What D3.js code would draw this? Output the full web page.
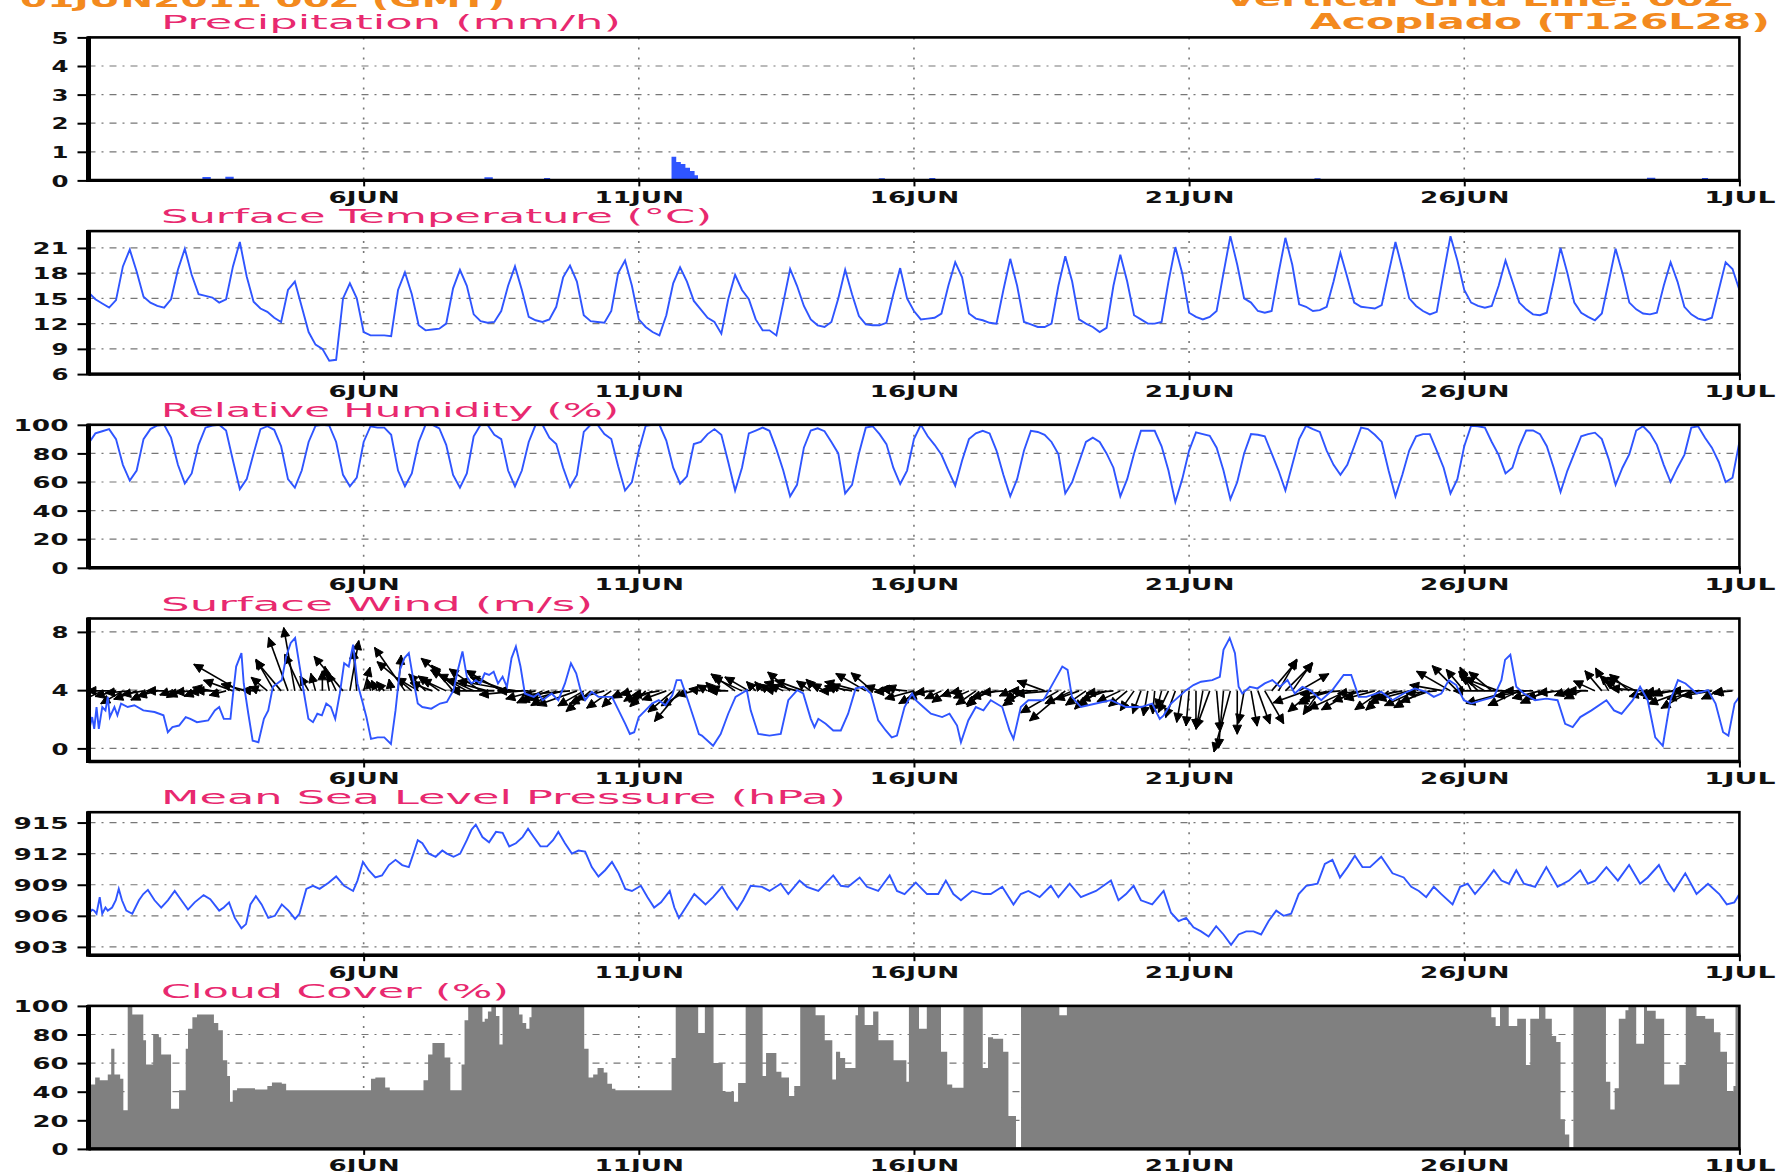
<!DOCTYPE html>
<html><head><meta charset="utf-8">
<script src="https://cdn.jsdelivr.net/npm/d3@7"></script>
<style>body{margin:0;background:#fff;overflow:hidden}svg{display:block}</style>
</head><body>
<svg id="c" width="1778" height="1172"></svg>
<script>
// ---------------- DATA ----------------
const headerLeft = "01JUN2011 00Z (GMT)";
const headerRight1 = "Vertical Grid Line: 00Z";
const headerRight2 = "Acoplado (T126L28)";

const dayTickHours = [120, 240, 360, 480, 600, 720];
const dayTickLabels = ["6JUN", "11JUN", "16JUN", "21JUN", "26JUN", "1JUL"];

const panelTitles = ["Precipitation  (mm/h)", "Surface  Temperature  (°C)", "Relative  Humidity  (%)",
  "Surface  Wind  (m/s)", "Mean  Sea  Level  Pressure  (hPa)", "Cloud  Cover  (%)"];

const precipTicks = [0, 1, 2, 3, 4, 5];
const tempTicks = [6, 9, 12, 15, 18, 21];
const humidityTicks = [0, 20, 40, 60, 80, 100];
const windTicks = [0, 4, 8];
const pressureTicks = [903, 906, 909, 912, 915];
const cloudTicks = [0, 20, 40, 60, 80, 100];

// precipitation, [hour, mm/h], stepped
const precipitation = [[0,0.02],[48,0.02],[50,0.09],[53,0.02],[59,0.02],[60,0.1],[63,0.02],[172,0.02],[173,0.08],[176,0.02],
  [198,0.02],[199,0.06],[201,0.02],[254.6,0.8],[256,0.62],[258,0.55],[260,0.42],[262,0.3],[264,0.15],[265.5,0.02],
  [344,0.02],[345,0.05],[347,0.02],[366,0.02],[367,0.06],[369,0.02],[534,0.02],[535,0.05],[537,0.02],
  [679,0.02],[680,0.07],[683,0.02],[703,0.02],[704,0.06],[706,0.02],[720,0.02]];

// surface temperature, 3-hourly from 01JUN 00Z
const temperature = [
  15.7,14.9,14.4,13.9,14.8,18.8,20.8,18.2,  15.2,14.5,14.1,13.9,14.9,18.4,20.9,17.8,
  15.5,15.3,15.1,14.5,14.9,18.8,21.7,17.6,  14.6,13.8,13.4,12.7,12.2,16.0,17.0,14.0,
  11.0,9.5,9.0,7.6,7.7,15.0,16.8,15.0,      11.0,10.6,10.6,10.6,10.5,16.0,18.1,15.5,
  11.8,11.2,11.3,11.4,12.0,16.2,18.4,16.5,  13.1,12.3,12.1,12.2,13.5,16.5,18.8,16.0,
  12.8,12.4,12.2,12.5,14.0,17.5,18.9,17.0,  13.0,12.3,12.2,12.1,13.5,18.0,19.5,16.5,
  12.5,11.6,11.0,10.6,13.0,16.8,18.7,17.0,  14.7,13.7,12.7,12.2,10.8,14.9,17.8,16.0,
  14.9,12.5,11.2,11.2,10.6,14.5,18.5,16.5,  14.1,12.5,11.8,11.6,12.2,15.0,18.4,15.5,
  12.9,11.9,11.8,11.8,12.1,15.5,18.6,15.0,  13.5,12.5,12.6,12.7,13.2,16.5,19.3,17.5,
  13.2,12.6,12.4,12.1,12.0,16.0,19.7,16.5,  12.2,11.9,11.6,11.6,12.0,16.5,20.0,17.0,
  12.5,12.0,11.6,11.0,11.5,16.5,20.2,17.0,  13.0,12.5,12.0,12.0,12.2,17.0,21.1,18.0,
  13.3,12.8,12.5,12.8,13.5,18.0,22.4,19.0,  15.0,14.5,13.5,13.3,13.5,18.0,22.2,19.0,
  14.3,14.0,13.5,13.6,14.0,17.0,20.4,17.5,  14.5,14.0,13.9,13.8,14.2,18.0,21.7,18.5,
  15.0,14.1,13.5,13.1,13.4,18.0,22.4,19.5,  16.0,14.5,14.1,13.9,14.1,16.5,19.5,17.0,
  14.5,13.7,13.1,13.0,13.3,17.0,21.0,18.0,  14.5,13.3,12.8,12.4,13.2,17.0,20.9,18.0,
  14.5,13.7,13.2,13.1,13.3,16.5,19.3,17.0,  14.0,13.1,12.6,12.4,12.7,16.0,19.3,18.5,
  16.0];

// relative humidity, 3-hourly from 01JUN 00Z
const humidity = [
  87,94,95.5,97,90,72,61,68,      90,97,99.5,100,91,72,59,66,
  86,98,99.5,100,96,75,55,62,     80,97,99,96.5,85,62,56,68,
  88,99.3,100,99.5,88,65,57,63,   88,99,98,98,93,68,57,66,
  88,100,100,97.5,86,65,56,66,    92,100,100,93,90,68,57,68,
  88,100,100,91,86.6,70,56.5,65,  95,100,100,93.5,90,71,54,60,
  82,99.3,100,100,89,70,58.8,64,  86.5,88,93.5,97,93,74,54,70,
  94,96,98,95.8,83,68,50,58,      84,96,97.5,95.5,88,80,52,58,
  80,98,99,93.5,86.5,70,58.6,68,  90,100,92,86,79,68,57.4,75,
  90,94,95.8,94,82,65,50,62,      82,95.8,95,93,88,79.5,52,60,
  74,88,91,88,80,70,50,62,        80,95.8,95.8,95.8,85,68,46,62,
  82,94.7,93.5,92.3,84,68,48,60,  80,93.5,93,92,80,68,54,72,
  90,99.3,97,95,82,72,65,72,      85,98,97,93,88,68,50,65,
  82,92,93.5,93.5,82,70,52,62,    85,99.3,99,98,88,79,66,70,
  85,96,96,93.5,85,70,53,68,      80,92,93.5,94.5,90,76,58,70,
  79.5,96,99,94,86,72,60,70,      79,98,99,91,84,74,60,63,
  88];

// wind speed, [hour, m/s]
const windSpeed = [[0,1.1],[1.6,2.15],[2.5,1.34],[3.5,2.84],[4.5,1.34],[6,2.84],[7.4,2.61],[8.4,3.54],[9.3,2.15],[11.3,2.84],
  [12.6,2.27],[14.2,3.08],[17.1,2.84],[20,2.96],[23.9,2.61],[28.8,2.5],[32.7,2.27],[34.6,1.11],[36.6,1.46],[39.5,1.57],
  [42.4,2.15],[44.4,2.03],[47.3,1.8],[52.2,1.92],[55.1,2.61],[57,2.84],[59,2.03],[61.9,2.03],[62.9,3.54],[64.4,5.62],
  [66.7,6.54],[67.7,4.46],[69.7,2.38],[71.6,0.53],[74.1,0.42],[76.5,2.03],[78.4,2.61],[80.4,4.23],[82.3,4.46],[84.3,4.69],
  [86.2,6.31],[88.2,7.24],[90.1,7.58],[92.1,5.62],[94,3.77],[95.9,2.03],[97.9,1.8],[99.8,2.38],[101.8,2.27],[103.7,3.08],
  [105.7,2.84],[107.6,2.03],[109.6,3.77],[111.5,5.85],[113.5,5.62],[115.4,7.12],[117.3,4.46],[119.3,3.31],[121.2,2.15],[123.2,0.65],
  [126.1,0.76],[129,0.76],[131.9,0.3],[133.9,2.61],[135.8,5.39],[137.8,6.2],[139.7,6.54],[141.7,4.69],[143.6,3.08],[145.6,2.84],
  [149.5,2.73],[153.3,3.08],[156.3,3.19],[159.2,4.0],[161.1,5.39],[163.1,6.66],[165,4.92],[167,4.46],[168.9,4.69],[170.9,4.46],
  [172.8,5.16],[174.7,5.04],[176.7,5.27],[178.6,4.46],[180.6,4.92],[182.5,4.23],[184.5,6.2],[186.4,7.0],[188.4,5.62],[190.3,3.77],
  [192.3,3.65],[194.2,3.54],[196.2,3.77],[198.1,3.31],[202,3.77],[204.9,3.31],[207.8,4.46],[210.4,5.85],[212.7,5.16],[214.6,4.0],
  [216.6,3.31],[219.5,3.88],[222.4,3.54],[228.3,3.54],[231.2,2.61],[234.1,1.69],[236.1,0.99],[238,1.11],[240,2.15],[242.9,2.61],
  [245.8,3.08],[248.7,3.31],[251.6,2.96],[254.6,3.65],[256.5,4.69],[258.4,4.69],[261.4,3.31],[264.3,1.92],[266.2,0.99],[267.5,0.88],
  [272.4,0.18],[275.7,0.99],[279,2.38],[282.2,3.54],[287.1,4.0],[288.8,2.61],[292.1,0.99],[297,0.88],[301.9,0.99],[305.2,3.31],
  [309.1,4.0],[311.7,3.77],[315,2.03],[316.6,1.46],[318.3,2.03],[321.5,1.69],[324.8,1.23],[328.1,1.23],[331.3,2.38],[334.6,4.12],
  [337.9,4.23],[341.2,3.77],[344.4,1.92],[347.7,1.23],[350.3,0.76],[352.6,0.88],[355.9,2.84],[359.2,3.77],[360.8,3.31],[364.1,2.84],
  [367.4,2.38],[372.3,2.15],[375.5,2.38],[378.8,1.57],[380.5,0.42],[383.7,1.92],[387,2.84],[390.3,2.61],[393.5,3.31],[398.5,2.84],
  [401.7,1.23],[403.4,0.65],[406.6,2.84],[409.9,3.31],[416.5,3.31],[421.4,4.69],[424.7,5.62],[427,5.39],[428.9,3.54],[432.8,2.84],
  [439.4,3.08],[445.9,3.31],[452.5,2.84],[459,2.84],[463.9,3.08],[467.2,2.03],[468.9,2.27],[472.1,3.08],[475.4,3.54],[478.7,4.0],
  [481.9,4.35],[485.2,4.58],[490.1,4.69],[493.4,4.92],[495,6.77],[497.7,7.58],[500,6.54],[501.6,4.23],[503.2,3.77],[506.5,4.23],
  [509.8,4.12],[513,4.46],[516.3,4.69],[519.6,4.23],[522.9,4.69],[526.1,3.77],[529.4,4.23],[532.7,4.0],[537.6,3.31],[542.5,4.0],
  [547.4,5.04],[550.7,5.04],[554,3.54],[557.3,3.54],[563.8,3.88],[568.7,3.31],[573.6,3.77],[578.5,4.12],[583.4,3.88],[586.7,3.54],
  [590,3.77],[593.3,4.69],[596.5,4.35],[599.8,3.31],[603.1,3.08],[608,3.31],[612.9,3.54],[616.2,4.69],[617.8,6.08],[620.1,6.43],
  [622.7,4.23],[626,3.77],[630.9,3.31],[635.8,3.42],[640.7,3.31],[644,1.69],[647.3,1.46],[650.6,2.15],[655.5,2.61],[662,3.31],
  [665.3,2.61],[668.6,2.38],[673.5,3.31],[676.7,4.23],[680,3.31],[683.3,0.76],[686.6,0.18],[689.9,3.31],[693.2,4.69],[696.5,4.46],
  [701.4,3.77],[706.3,4.0],[709.6,3.08],[712.9,1.11],[715.2,0.88],[717.9,3.08],[720,3.54]];

// wind vector direction (degrees the arrow points to, clockwise from up), 3-hourly
const windDirection = [
  250,260,245,270,255,240,265,250,  260,245,255,270,250,240,255,265,
  250,265,280,270,255,290,300,285,  275,290,310,330,320,340,350,335,
  330,345,0,350,335,320,10,355,     15,345,330,320,350,5,325,310,
  300,315,290,305,295,320,310,300,  295,305,285,270,300,290,280,265,
  270,255,245,250,240,255,265,250,  240,230,245,255,235,225,240,250,
  235,225,245,260,250,230,220,240,  255,280,300,315,290,270,305,295,
  300,315,320,305,280,295,310,285,  290,305,315,300,270,300,295,280,
  285,300,310,290,265,285,290,275,  255,240,250,265,245,235,250,260,
  245,235,225,240,255,265,245,230,  235,250,270,290,265,240,230,245,
  250,235,225,235,250,265,245,230,  215,200,190,185,195,205,200,190,
  185,180,190,200,175,185,195,180,  190,170,160,150,40,30,45,35,
  60,250,230,215,245,255,265,245,   240,250,265,255,235,230,245,260,
  255,245,240,250,265,280,300,315,  320,335,315,300,310,290,270,255,
  245,260,270,255,245,255,265,250,  255,245,270,295,320,330,315,300,
  310,295,275,255,260,245,255,265,  250,240,255,270,260,245,255,265];

// mean sea level pressure, [hour, hPa]
const pressure = [[0,906.2],[1.6,906.6],[2.5,906.5],[3.5,906.2],[4.9,907.8],[6,906.2],[7.4,906.8],[8.4,906.5],[10.3,906.8],[11.9,907.5],
  [13.2,908.6],[14.6,907.5],[16.5,906.5],[19.1,906.2],[22,907.5],[23.9,908.1],[25.9,908.5],[28.8,907.5],[31.7,906.8],[34.6,907.5],
  [37.6,908.4],[40.5,907.5],[43.4,906.6],[46.3,907.3],[50.2,908.0],[53.1,907.6],[57,906.5],[59,906.8],[61.3,907.3],[63.8,905.8],
  [66.7,904.8],[68.7,905.2],[70.6,907.1],[73,907.9],[75.5,907.1],[78.4,905.8],[81.3,906.0],[84.3,907.1],[87.2,906.5],[90.1,905.7],
  [92,906.2],[95,908.6],[97.9,908.9],[100.8,908.6],[104.7,909.2],[108,909.8],[111.5,908.9],[115.4,908.4],[117.3,909.4],[119.7,911.2],
  [122.2,910.4],[125.1,909.7],[128,909.9],[131,910.9],[133.9,911.4],[136.8,910.9],[139.7,910.7],[141.7,912.0],[143.6,913.3],[145.6,913.0],
  [148.5,912.0],[151.4,911.7],[154.3,912.3],[156.3,912.0],[159.2,911.7],[162.1,912.0],[165,913.3],[167,914.3],[168.9,914.8],[171.8,913.6],
  [174.7,913.1],[177.7,914.1],[180.6,914.0],[183.5,912.7],[186.4,913.0],[189.3,913.6],[191.7,914.4],[194.2,913.6],[197.1,912.7],[200,912.7],
  [202.6,913.3],[204.9,914.1],[207.8,913.0],[210.8,912.0],[213.7,912.3],[216.6,912.2],[219.5,910.7],[222.4,909.8],[225.3,910.4],[228.3,911.2],
  [231.2,910.1],[234.1,908.6],[237,908.4],[240.9,908.9],[243.8,907.8],[246.7,906.8],[249.7,907.3],[253.5,908.4],[255.5,906.8],[257.5,905.8],
  [261,907.0],[264.2,908.1],[269.1,907.1],[272.4,907.8],[276.3,908.8],[279,907.8],[282.9,906.6],[285.5,907.5],[288.8,908.9],[293.7,908.8],
  [297,908.4],[301.9,909.1],[305.2,908.1],[310.1,909.4],[313.3,908.8],[318.3,908.4],[324.8,909.9],[328.1,908.9],[331.3,908.8],[336.3,909.7],
  [339.5,908.8],[344.4,908.4],[349.4,909.9],[352.6,908.4],[355.9,908.1],[360.8,909.2],[365.7,908.1],[370.6,908.1],[373.9,909.4],[377.2,908.1],
  [380.5,907.5],[385.4,908.4],[390.3,908.1],[393.5,908.1],[398.5,908.8],[403.4,907.1],[406.6,908.1],[409.9,908.4],[414.8,907.8],[419.7,908.9],
  [423,907.8],[427.9,909.1],[432.8,907.8],[439.4,908.4],[445.9,909.4],[449.2,907.5],[452.5,908.1],[455.8,908.9],[459,907.5],[463.9,907.1],
  [468.9,908.4],[472.1,906.3],[475.4,905.5],[478.7,905.8],[481.9,904.9],[485.2,904.5],[488.5,904.0],[491.8,905.0],[495,904.2],[498.3,903.2],
  [501.6,904.2],[504.9,904.5],[508.1,904.5],[511.4,904.2],[514.7,905.5],[518,906.5],[521.2,906.0],[524.5,906.2],[527.8,908.1],[531.1,908.9],
  [536,909.1],[539.2,911.0],[542.5,911.4],[545.8,909.7],[549.1,910.7],[552.3,911.8],[555.6,910.7],[558.9,910.7],[563.8,911.7],[568.7,910.1],
  [573.6,909.7],[576.9,908.8],[580.2,908.4],[583.4,907.8],[586.7,908.8],[590,908.1],[594.9,907.1],[598.2,908.8],[601.5,909.1],[604.7,908.1],
  [609.6,909.4],[612.9,910.4],[616.2,909.4],[619.5,909.1],[622.7,910.4],[626,909.1],[630.9,908.8],[635.8,910.7],[640.7,908.8],[645.7,909.4],
  [650.6,910.4],[653.9,909.1],[657.1,909.4],[662,910.7],[667,909.4],[671.9,910.9],[676.7,909.1],[680,909.7],[684.9,910.9],[688.2,909.4],
  [691.5,908.4],[696.4,910.1],[701.3,908.1],[706.3,909.1],[711.2,908.1],[714.5,907.1],[717.8,907.3],[720,908.1]];

// cloud cover, [hour, %], stepped
const cloudCover = [[0,29],[1,45],[2.9,50],[4.9,48],[8.4,52],[9.9,70],[11.3,52],[13.8,49],[15.2,27],[17.1,100],
  [19.1,94],[23.9,76],[25.1,59],[28.2,80],[30.7,78],[31.7,66],[36,28],[39.5,41],[42.4,70],[43.4,84],
  [45.3,92],[47.3,94],[54.7,88],[56.6,83],[58.6,62],[60.5,51],[61.7,33],[62.9,41],[64.8,42.5],[72.6,41.5],
  [78,44],[80,46.5],[84.3,45.5],[86.2,41],[123.2,49],[125.1,50],[129.4,43],[131.4,41],[146.1,48],[148.1,66],
  [150,74],[155.3,64],[157.8,41],[162.7,59],[164,90],[165.6,100],[171.8,89],[172.8,91],[174.2,96],[175.7,100],
  [177.7,93],[179.2,73],[180.6,100],[187.8,94],[189.3,88],[190.9,84],[192.3,92],[193.2,100],[216.2,70],[218.1,50],
  [220.1,52],[222,56.5],[224.7,53.5],[226.3,45.5],[228.3,42],[229.8,41],[254.3,63.5],[256.1,100],[265.9,81],[268.8,100],
  [272.6,60],[276.6,40],[281.5,33],[283.3,46],[286.6,100],[294,51],[295.5,67],[300,54],[302.2,50],[305.5,37],
  [307.8,44],[310.4,100],[317.1,93.5],[321.1,76],[324.4,48.5],[326,68],[327.8,63.5],[330,56.6],[334.5,93.5],[335.6,100],
  [338.5,86.6],[342.2,96],[344.5,76],[351.1,62],[356.7,47],[357.8,100],[362.2,84],[365.6,100],[371.8,68],[374.5,45],
  [376.7,42.7],[381.6,100],[390,56.6],[392.3,78],[394.5,77],[398.9,68],[401.2,23],[404.5,1],[406.7,100],[423.4,93.5],
  [426.7,100],[611.8,92],[613.7,86],[615.6,100],[619.4,86],[623.1,91],[626.9,58.6],[628.8,91],[632.6,100],[635.4,91],
  [638.2,79],[640.1,74.7],[642,20.7],[643.9,10],[645.8,1],[647.6,100],[661.8,47],[663.7,27.6],[665.6,42.5],[667.4,91],
  [670.3,97],[671.6,100],[675,73.6],[678.4,100],[679.7,96.6],[683.5,91],[687.2,45],[693.8,58.6],[696.6,100],[701.3,93],
  [705.1,91],[708.9,81.6],[711.7,68],[714.6,40],[717.4,44],[718.3,100],[720,100]];

// ---------------- LAYOUT & STYLE ----------------
const X0 = 88.5, X1 = 1739.4;
const TOP0 = 37.4, STEP = 193.7, PH = 143;
const BLUE = "#2f55ff", PINK = "#e8296f", ORANGE = "#f38a1e", GRAY = "#808080";
const FONT = "'DejaVu Sans', 'Liberation Sans', sans-serif";

const svg = d3.select("#c");
svg.append("rect").attr("width", 1778).attr("height", 1172).attr("fill", "#fff");
const x = d3.scaleLinear().domain([0, 720]).range([X0, X1]);

function stretchText(sel, width) {
  sel.attr("textLength", width).attr("lengthAdjust", "spacingAndGlyphs");
}

// header (partly above the top edge, as in the reference)
const hdr = svg.append("g").attr("fill", ORANGE).attr("font-family", FONT).attr("font-weight", "bold").attr("font-size", 22);
hdr.append("text").attr("x", 20).attr("y", 7).text(headerLeft).call(stretchText, 485);
hdr.append("text").attr("x", 1225).attr("y", 6).text(headerRight1).call(stretchText, 508);
hdr.append("text").attr("x", 1310).attr("y", 29).text(headerRight2).call(stretchText, 460);

const titleWidths = [460, 551, 458, 432, 685, 348];

function makePanel(i, domain, ticks) {
  const top = TOP0 + i * STEP, bottom = top + PH;
  const y = d3.scaleLinear().domain(domain).range([bottom, top]);
  const g = svg.append("g");
  const clipId = "clip" + i;
  svg.append("clipPath").attr("id", clipId).append("rect")
    .attr("x", X0).attr("y", top - 1).attr("width", X1 - X0).attr("height", PH + 1);

  g.append("g").selectAll("line")
    .data(ticks.filter(t => Math.abs(y(t) - top) > 3 && Math.abs(y(t) - bottom) > 3))
    .join("line")
    .attr("x1", X0).attr("x2", X1).attr("y1", d => y(d)).attr("y2", d => y(d))
    .attr("stroke", "#777").attr("stroke-width", 1.2).attr("stroke-dasharray", "7,6,2,6");
  g.append("g").selectAll("line")
    .data(dayTickHours.filter(h => h < 720))
    .join("line")
    .attr("x1", d => x(d)).attr("x2", d => x(d)).attr("y1", top).attr("y2", bottom)
    .attr("stroke", "#777").attr("stroke-width", 1.6).attr("stroke-dasharray", "2,8");

  const content = g.append("g").attr("clip-path", `url(#${clipId})`);

  const frame = g.append("g");
  frame.append("rect").attr("x", X0).attr("y", top).attr("width", X1 - X0).attr("height", PH)
    .attr("fill", "none").attr("stroke", "#000").attr("stroke-width", 2.6);
  frame.append("line").attr("x1", X0).attr("x2", X0).attr("y1", top - 1).attr("y2", bottom + 1.5)
    .attr("stroke", "#000").attr("stroke-width", 5);
  frame.append("line").attr("x1", X0).attr("x2", X1 + 1).attr("y1", bottom).attr("y2", bottom)
    .attr("stroke", "#000").attr("stroke-width", 3.4);

  const ya = g.append("g").attr("transform", `translate(${X0 - 2},0)`)
    .call(d3.axisLeft(y).tickValues(ticks).tickSize(9).tickPadding(9).tickFormat(d3.format("d")));
  ya.select(".domain").remove();
  ya.selectAll(".tick line").attr("stroke", "#000").attr("stroke-width", 2);
  ya.selectAll(".tick text")
    .attr("font-family", FONT).attr("font-weight", "bold").attr("font-size", 16).attr("fill", "#111")
    .attr("dy", "0.36em")
    .each(function (d) { d3.select(this).call(stretchText, String(d).length * 19 - 2); });

  const xa = g.append("g").attr("transform", `translate(0,${bottom})`)
    .call(d3.axisBottom(x).tickValues(dayTickHours).tickSize(6).tickFormat((d, k) => dayTickLabels[k]));
  xa.select(".domain").remove();
  xa.selectAll(".tick line").attr("stroke", "#000").attr("stroke-width", 2);
  xa.selectAll(".tick text")
    .attr("y", 22.6).attr("dy", 0)
    .attr("font-family", FONT).attr("font-weight", "bold").attr("font-size", 16).attr("fill", "#111")
    .each(function (d, k) { d3.select(this).call(stretchText, dayTickLabels[k].length * 18.4 - 2.5); });

  g.append("text").attr("x", 161).attr("y", top - 8)
    .attr("font-family", FONT).attr("font-size", 20).attr("fill", PINK)
    .text(panelTitles[i]).call(stretchText, titleWidths[i]);

  return { y, content, frame, top, bottom };
}

// ---- Panel 1: precipitation
const p1 = makePanel(0, [0, 5], precipTicks);
p1.content.append("path").datum(precipitation)
  .attr("d", d3.area().curve(d3.curveStepAfter).x(d => x(d[0])).y0(p1.y(0)).y1(d => p1.y(d[1])))
  .attr("fill", BLUE).attr("stroke", BLUE).attr("stroke-width", 1.5);

// ---- Panel 2: temperature
const p2 = makePanel(1, [6, 23], tempTicks);
p2.content.append("path").datum(temperature)
  .attr("d", d3.line().x((d, i) => x(i * 3)).y(d => p2.y(d)))
  .attr("fill", "none").attr("stroke", BLUE).attr("stroke-width", 1.9);

// ---- Panel 3: humidity
const p3 = makePanel(2, [0, 100], humidityTicks);
p3.content.append("path").datum(humidity)
  .attr("d", d3.line().x((d, i) => x(i * 3)).y(d => p3.y(d)))
  .attr("fill", "none").attr("stroke", BLUE).attr("stroke-width", 1.9);

// ---- Panel 4: wind
const p4 = makePanel(3, [-0.9, 8.92], windTicks);
function speedAt(h) { // wind speed at the arrow's time, for the arrow length
  for (let k = 1; k < windSpeed.length; k++) {
    if (windSpeed[k][0] >= h) {
      const a = windSpeed[k - 1], b = windSpeed[k];
      return a[1] + (b[1] - a[1]) * (h - a[0]) / (b[0] - a[0]);
    }
  }
  return windSpeed[windSpeed.length - 1][1];
}
const arrowScale = 8.5; // px per m/s
const arrows = windDirection.map((dir, i) => {
  const h = i * 3, len = Math.max(12, speedAt(h) * arrowScale), a = dir * Math.PI / 180;
  const x0 = x(h), y0 = p4.y(3.95);
  const x1 = x0 + len * Math.sin(a), y1 = y0 - len * Math.cos(a);
  const hl = 10, back = a + Math.PI;
  const hx1 = x1 + hl * Math.sin(back - 0.45), hy1 = y1 - hl * Math.cos(back - 0.45);
  const hx2 = x1 + hl * Math.sin(back + 0.45), hy2 = y1 - hl * Math.cos(back + 0.45);
  return { shaft: `M${x0},${y0}L${x1},${y1}`, head: `M${x1},${y1}L${hx1},${hy1}L${hx2},${hy2}Z` };
});
const arrowG = p4.content.append("g");
arrowG.selectAll("path.shaft").data(arrows).join("path").attr("class", "shaft")
  .attr("d", d => d.shaft).attr("fill", "none").attr("stroke", "#000").attr("stroke-width", 1.6);
arrowG.selectAll("path.head").data(arrows).join("path").attr("class", "head")
  .attr("d", d => d.head).attr("fill", "#000").attr("stroke", "#000").attr("stroke-width", 1);
p4.content.append("path").datum(windSpeed)
  .attr("d", d3.line().x(d => x(d[0])).y(d => p4.y(d[1])))
  .attr("fill", "none").attr("stroke", BLUE).attr("stroke-width", 1.9);

// ---- Panel 5: pressure
const p5 = makePanel(4, [902.2, 916.0], pressureTicks);
p5.content.append("path").datum(pressure)
  .attr("d", d3.line().x(d => x(d[0])).y(d => p5.y(d[1])))
  .attr("fill", "none").attr("stroke", BLUE).attr("stroke-width", 1.9);

// ---- Panel 6: cloud cover
const p6 = makePanel(5, [0, 100], cloudTicks);
p6.content.append("path").datum(cloudCover)
  .attr("d", d3.area().curve(d3.curveStepAfter).x(d => x(d[0])).y0(p6.y(0)).y1(d => p6.y(d[1])))
  .attr("fill", GRAY);
</script>
</body></html>
